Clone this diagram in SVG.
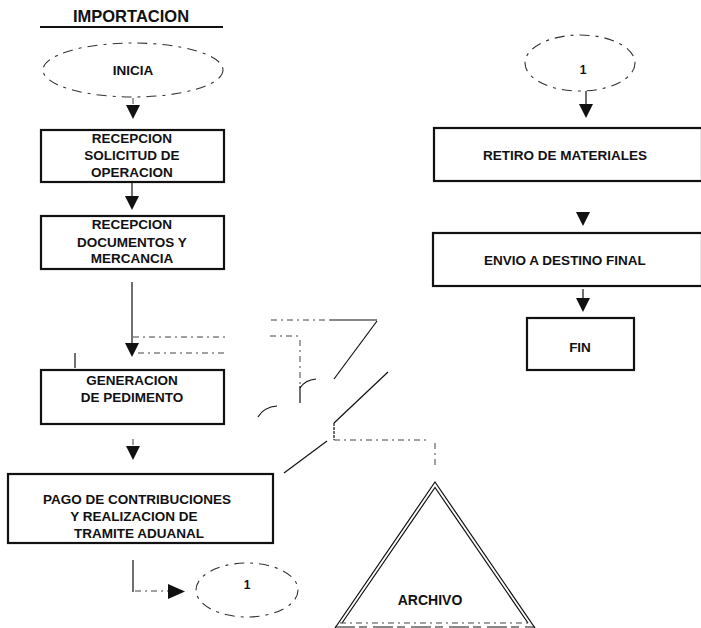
<svg xmlns="http://www.w3.org/2000/svg" width="701" height="628" viewBox="0 0 701 628">
<defs>
<style>
.box{fill:#fff;stroke:#111;stroke-width:2.2}
.ell{fill:none;stroke:#333;stroke-width:1.1;stroke-dasharray:10 6 3 6}
.t{font-family:"Liberation Sans",Arial,sans-serif;font-weight:bold;font-size:13.5px;fill:#111;text-anchor:middle}
.ln{fill:none;stroke:#111;stroke-width:1.2}
.dl{fill:none;stroke:#444;stroke-width:1;stroke-dasharray:6 4 2 4}
.tri{fill:#111}
</style>
<path id="ad" d="M-7,0 L7,0 L0,14 Z"/>
</defs>
<rect width="701" height="628" fill="#fff"/>

<g id="title">
<text class="t" x="131" y="22" style="font-size:16.5px">IMPORTACION</text>
<line x1="40" y1="27" x2="223" y2="27" stroke="#111" stroke-width="2"/>
</g>

<g id="connectors">
<line class="dl" x1="133" y1="98" x2="133" y2="106"/>
<use href="#ad" class="tri" x="133" y="105"/>
<line class="ln" x1="132" y1="183" x2="132" y2="196"/>
<use href="#ad" class="tri" x="132" y="196"/>
<line class="ln" x1="132" y1="282" x2="132" y2="344"/>
<use href="#ad" class="tri" x="132" y="343"/>
<line class="dl" x1="133" y1="337" x2="227" y2="337"/>
<line class="dl" x1="270" y1="336" x2="300" y2="336"/>
<line class="dl" x1="138" y1="353" x2="227" y2="353"/>
<line class="dl" x1="300" y1="340" x2="300" y2="388"/>
<line class="ln" x1="300" y1="386" x2="300" y2="403"/>
<path class="ln" d="M300,388 Q305,380 316,379" stroke-width="0.8"/>
<line class="dl" x1="271" y1="320" x2="330" y2="320"/>
<line class="ln" x1="330" y1="320" x2="377" y2="320"/>
<line class="ln" x1="377" y1="321" x2="334" y2="379"/>
<line class="ln" x1="388" y1="372" x2="334" y2="423"/>
<line class="ln" x1="334" y1="423" x2="334" y2="440" stroke-dasharray="3 1"/>
<line class="dl" x1="334" y1="440" x2="427" y2="440"/>
<line class="dl" x1="435" y1="443" x2="435" y2="468"/>
<line class="ln" x1="327" y1="441" x2="284" y2="473"/>
<path class="ln" d="M258,417 Q264,407 277,406" stroke-width="0.9"/>
<line class="ln" x1="75" y1="353" x2="75" y2="368" stroke-width="1.5"/>
<line class="dl" x1="133" y1="439" x2="133" y2="447"/>
<use href="#ad" class="tri" x="133" y="446"/>
<line class="ln" x1="133" y1="560" x2="133" y2="592" stroke-width="2.2"/>
<line class="dl" x1="135" y1="591" x2="168" y2="591"/>
<path class="tri" d="M168,584 L185,591.5 L168,599 Z"/>
<line class="ln" x1="586" y1="91" x2="586" y2="104"/>
<use href="#ad" class="tri" x="586" y="104"/>
<use href="#ad" class="tri" x="583" y="212"/>
<line class="ln" x1="583" y1="289" x2="583" y2="299"/>
<use href="#ad" class="tri" x="583" y="298"/>
</g>

<g id="inicia">
<ellipse class="ell" cx="133" cy="70" rx="90" ry="27"/>
<text class="t" x="133" y="75">INICIA</text>
</g>

<g id="recepcion-solicitud">
<rect class="box" x="41" y="130" width="183" height="52"/>
<text class="t" x="132" y="143">RECEPCION</text>
<text class="t" x="132" y="160">SOLICITUD DE</text>
<text class="t" x="132" y="177">OPERACION</text>
</g>

<g id="recepcion-documentos">
<rect class="box" x="41" y="216" width="183" height="53"/>
<text class="t" x="132" y="229">RECEPCION</text>
<text class="t" x="132" y="247">DOCUMENTOS Y</text>
<text class="t" x="132" y="263">MERCANCIA</text>
</g>

<g id="generacion">
<rect class="box" x="41" y="370" width="183" height="54"/>
<text class="t" x="132" y="385">GENERACION</text>
<text class="t" x="132" y="402">DE PEDIMENTO</text>
</g>

<g id="pago">
<rect class="box" x="8" y="474" width="265" height="69"/>
<text class="t" x="137" y="504">PAGO DE CONTRIBUCIONES</text>
<text class="t" x="134" y="521">Y REALIZACION DE</text>
<text class="t" x="139" y="538">TRAMITE ADUANAL</text>
</g>

<g id="conector-1-salida">
<ellipse class="ell" cx="247" cy="590" rx="51" ry="27"/>
<text class="t" x="247" y="589" style="font-size:12px">1</text>
</g>

<g id="archivo">
<polyline class="ln" points="335,628 435,482 535,628"/>
<polyline class="ln" points="342,623 435,487.5 528,623" stroke-width="1"/>
<line class="dl" x1="340" y1="623" x2="528" y2="623"/>
<line x1="335" y1="627" x2="535" y2="627" stroke="#111" stroke-width="1.2" stroke-dasharray="20 4 8 6"/>
<text class="t" x="430" y="605" style="font-size:14px">ARCHIVO</text>
</g>

<g id="conector-1-entrada">
<ellipse class="ell" cx="580" cy="63" rx="55" ry="28"/>
<text class="t" x="583" y="74" style="font-size:12px">1</text>
</g>

<g id="retiro">
<rect class="box" x="434" y="128" width="268" height="53"/>
<text class="t" x="565" y="160">RETIRO DE MATERIALES</text>
</g>

<g id="envio">
<rect class="box" x="433" y="233" width="269" height="53"/>
<text class="t" x="565" y="265">ENVIO A DESTINO FINAL</text>
</g>

<g id="fin">
<rect class="box" x="527" y="318" width="107" height="52"/>
<text class="t" x="580" y="352">FIN</text>
</g>
</svg>
